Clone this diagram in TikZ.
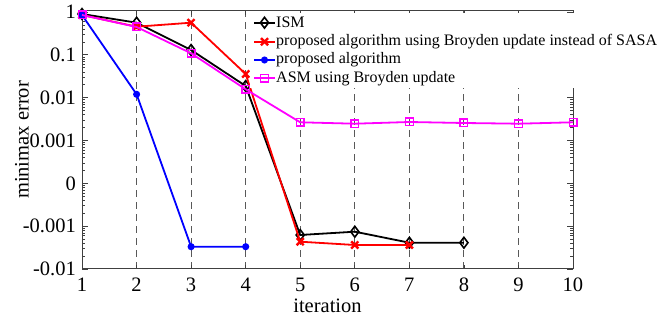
\documentclass[tikz,border=0pt]{standalone}
\usepackage{fontspec}
\setmainfont{Liberation Serif}
\usetikzlibrary{plotmarks}
\definecolor{magc}{RGB}{255,0,255}
\definecolor{redc}{RGB}{255,0,0}
\definecolor{bluec}{RGB}{0,0,255}
\begin{document}
\begin{tikzpicture}[x=1pt,y=-1pt,
  lbl/.style={font=\fontsize{20.5}{24}\selectfont, inner sep=0pt},
  leg/.style={font=\fontsize{16}{19}\selectfont, inner sep=0pt, anchor=west},
  gridline/.style={draw=black!65, line width=1.1pt, dash pattern=on 7pt off 5pt},
  axisline/.style={draw=black!75, line width=1pt},
  ismline/.style={black, line width=1.8pt, mark=diamond, mark size=5.4pt, mark options={solid, line width=1.6pt, fill=white}},
  redline/.style={redc, line width=1.8pt, mark=x, mark size=5pt, mark options={line width=2.4pt}},
  blueline/.style={bluec, line width=1.8pt, mark=*, mark size=2.6pt},
  magline/.style={magc, line width=1.8pt, mark=square, mark size=3.8pt, mark options={line width=1.4pt}}
]
\useasboundingbox (0,0) rectangle (662,320);
% grid lines
\foreach \xx in {136.6,191.1,245.7,300.2,354.8,409.4,463.9,518.5}
  \draw[gridline] (\xx,269) -- (\xx,11);
% axis ticks left/right
\foreach \d in {0,...,5}{
  \pgfmathsetmacro{\yb}{269-42.83*\d}
  \foreach \k in {2,...,9}{
    \pgfmathsetmacro{\yy}{\yb-42.83*log10(\k)}
    \draw[black!75, line width=0.6pt] (82,\yy) -- (85,\yy);
    \draw[black!75, line width=0.6pt] (573,\yy) -- (570,\yy);
  }
}
\foreach \d in {0,...,6}{
  \pgfmathsetmacro{\yy}{269-42.83*\d}
  \draw[black!75, line width=0.8pt] (82,\yy) -- (88,\yy);
  \draw[black!75, line width=0.8pt] (573,\yy) -- (567,\yy);
}
\foreach \xx in {82,136.6,191.1,245.7,300.2,354.8,409.4,463.9,518.5,573}{
  \draw[black!75, line width=0.8pt] (\xx,269) -- (\xx,265);
  \draw[black!75, line width=0.8pt] (\xx,11) -- (\xx,15);
}
% box
\draw[axisline] (82,11) rectangle (573,269);
% data
\draw[ismline] plot coordinates {(82,14) (136.6,22.7) (191.1,50) (245.7,86) (300.2,235) (354.8,231.7) (409.4,242.7) (463.9,242.7)};
\draw[redline] plot coordinates {(82,15) (136.6,26.7) (191.1,22.7) (245.7,74) (300.2,241.7) (354.8,245) (409.4,245)};
\draw[blueline] plot coordinates {(82,15) (136.6,94.3) (191.1,246.7) (245.7,246.7)};
\draw[magline] plot coordinates {(82,15) (136.6,27) (191.1,53.3) (245.7,89.3) (300.2,122.3) (354.8,123.7) (409.4,122) (463.9,123) (518.5,123.7) (573,122.3)};
% legend
\fill[white] (250,13) rectangle (662,88);
\draw[ismline, mark=none] (254,22.7) -- (275,22.7);
\draw[ismline] plot coordinates {(264.5,22.7)};
\node[leg] (l1) at (276,22.7) {ISM};
\draw[redline, mark=none] (254,41.7) -- (275,41.7);
\draw[redline] plot coordinates {(264.5,41.7)};
\node[leg] (l2) at (276,41.7) {proposed algorithm using Broyden update instead of SASA};
\draw[blueline, mark=none] (254,60) -- (275,60);
\draw[blueline] plot coordinates {(264.5,60)};
\node[leg] (l3) at (276,60) {proposed algorithm};
\draw[magline, mark=none] (254,78.3) -- (275,78.3);
\draw[magline] plot coordinates {(264.5,78.3)};
\node[leg] (l4) at (276,78.3) {ASM using Broyden update};
% tick labels
\foreach \lab [count=\i from 0] in {-0.01,-0.001,0,0.001,0.01,0.1,1}{
  \pgfmathsetmacro{\yy}{269-42.83*\i}
  \node[lbl, anchor=east] at (76,\yy) {\lab};
}
\foreach \i in {1,...,10}{
  \pgfmathsetmacro{\xx}{82+54.555*(\i-1)}
  \node[lbl] at (\xx,285) {\i};
}
\node[lbl] (xl) at (327.5,306) {iteration};
\node[lbl, rotate=90] (yl) at (22,140) {minimax error};
\end{tikzpicture}
\end{document}
